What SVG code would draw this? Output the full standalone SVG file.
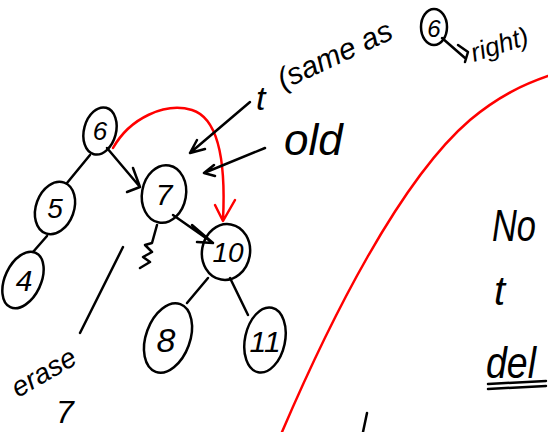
<svg xmlns="http://www.w3.org/2000/svg" width="548" height="432" viewBox="0 0 548 432">
<defs>
<style>
.n{fill:none;stroke:#000;stroke-width:2.5;stroke-linecap:round;stroke-linejoin:round}
.r{fill:none;stroke:#f00;stroke-width:2.5;stroke-linecap:round;stroke-linejoin:round}
.t{font-family:"Liberation Sans","DejaVu Sans",sans-serif;fill:#000;font-style:italic}
</style>
</defs>
<rect width="548" height="432" fill="#fff"/>
<g id="connectors">
<path class="n" d="M90,155 L67,183"/>
<path class="n" d="M107,148 L140,187 M133,168 L140,187 L127,192"/>
<path class="n" d="M173,215 L213,243 M192,225 L213,243 L197,242"/>
<path class="n" d="M47,236 L33,252"/>
<path class="n" d="M208,278 L187,303"/>
<path class="n" d="M230,278 L248,315"/>
<path class="r" d="M113,148 C130,118 165,102 192,110 C218,118 226,160 223,220 M215,205 L223,221 L235,200"/>
<path class="n" d="M250,102 L190,153 M197,140 L190,153 L205,149"/>
<path class="n" d="M265,148 L204,173 M214,165 L204,173 L215,176"/>
<path class="n" d="M80,333 L123,247"/>
<path class="n" d="M157,225 L152,243 L145,245 L152,252 L143,257 L150,262 L140,268"/>
</g>
<g id="n6"><ellipse class="n" cx="100" cy="131" rx="16" ry="24" transform="rotate(15 100 131)"/><text class="t" x="100" y="140" font-size="26" text-anchor="middle">6</text></g>
<g id="n5"><ellipse class="n" cx="55" cy="208" rx="19" ry="27" transform="rotate(20 55 208)"/><text class="t" x="55" y="218" font-size="28" text-anchor="middle">5</text></g>
<g id="n7"><ellipse class="n" cx="164" cy="194" rx="22" ry="29" transform="rotate(10 164 194)"/><text class="t" x="164" y="205" font-size="30" text-anchor="middle">7</text></g>
<g id="n4"><ellipse class="n" cx="23" cy="280" rx="18" ry="30" transform="rotate(25 23 280)"/><text class="t" x="24" y="291" font-size="30" text-anchor="middle">4</text></g>
<g id="n10"><ellipse class="n" cx="226" cy="252" rx="24" ry="28" transform="rotate(10 226 252)"/><text class="t" x="228" y="262" font-size="28" text-anchor="middle">10</text></g>
<g id="n8"><ellipse class="n" cx="168" cy="338" rx="22" ry="36" transform="rotate(20 168 338)"/><text class="t" x="166" y="352" font-size="34" text-anchor="middle">8</text></g>
<g id="n11"><ellipse class="n" cx="265" cy="340" rx="20" ry="33" transform="rotate(12 265 340)"/><text class="t" x="265" y="352" font-size="30" text-anchor="middle">11</text></g>
<g id="notes">
<text class="t" x="256" y="110" font-size="34">t</text>
<text class="t" x="283" y="90" font-size="30" transform="rotate(-25 283 90)">(same as</text>
<ellipse class="n" cx="434" cy="27" rx="13" ry="18"/>
<text class="t" x="434" y="37" font-size="24" text-anchor="middle">6</text>
<path class="n" d="M442,38 L465,58 M458,45 L468,52 L465,62"/>
<text class="t" x="474" y="62" font-size="26" transform="rotate(-18 474 62)">right)</text>
<text class="t" x="492" y="241" font-size="44" textLength="44" lengthAdjust="spacingAndGlyphs">No</text>
<text class="t" x="494" y="305" font-size="40">t</text>
<text class="t" x="486" y="378" font-size="44" textLength="50" lengthAdjust="spacingAndGlyphs">del</text>
<text class="t" x="284" y="155" font-size="44">old</text>
<text class="t" x="18" y="398" font-size="28" transform="rotate(-30 18 398)">erase</text>
<text class="t" x="56" y="423" font-size="32">7</text>
<path class="n" d="M488,384 L546,381 M488,389 L546,386"/>
<path class="n" d="M367,413 L363,432"/>
<path class="r" d="M282,432 C330,320 400,180 470,120 C500,95 525,84 548,76"/>
</g>
</svg>
